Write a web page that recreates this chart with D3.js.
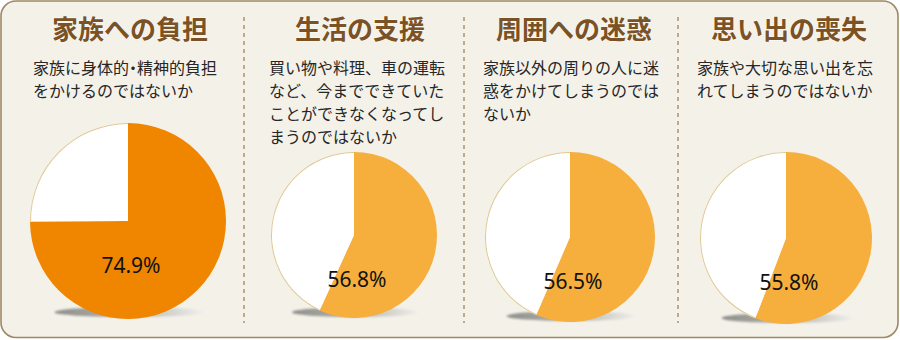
<!DOCTYPE html>
<html lang="ja">
<head>
<meta charset="utf-8">
<script src="https://cdn.jsdelivr.net/npm/d3@7/dist/d3.min.js"></script>
<style>
  html, body { margin: 0; padding: 0; background: #ffffff; }
  svg { display: block; }
  .half { font-feature-settings: "halt" 1; }
</style>
</head>
<body>
<svg id="chart" width="900" height="340"></svg>
<script>
// Survey: worries about dementia (share of respondents, %)
const titles = ["家族への負担", "生活の支援", "周囲への迷惑", "思い出の喪失"];
const descriptions = [
  ["家族に身体的・精神的負担", "をかけるのではないか"],
  ["買い物や料理、車の運転", "など、今までできていた", "ことができなくなってし", "まうのではないか"],
  ["家族以外の周りの人に迷", "惑をかけてしまうのでは", "ないか"],
  ["家族や大切な思い出を忘", "れてしまうのではないか"]
];
const percents = [74.9, 56.8, 56.5, 55.8];

// Panel layout (text column, pie placement)
const layout = [
  { textX: 33,  titleX: 130, cx: 128, cy: 221, r: 98, color: "#f08500" },
  { textX: 269, titleX: 360, cx: 354, cy: 235, r: 83, color: "#f6ae3d" },
  { textX: 483, titleX: 574, cx: 570, cy: 237, r: 85, color: "#f6ae3d" },
  { textX: 697, titleX: 789, cx: 786, cy: 238, r: 86, color: "#f6ae3d" }
];
const dividers = [244, 464, 678];

const svg = d3.select("#chart");
const defs = svg.append("defs");

const grad = defs.append("linearGradient").attr("id", "shadowGrad")
  .attr("x1", "0%").attr("x2", "100%").attr("y1", "0%").attr("y2", "0%");
grad.append("stop").attr("offset", "0%").attr("stop-color", "#8f8f8a");
grad.append("stop").attr("offset", "55%").attr("stop-color", "#b9b9b4");
grad.append("stop").attr("offset", "100%").attr("stop-color", "#efeee9");

const blur = defs.append("filter").attr("id", "soft")
  .attr("x", "-20%").attr("y", "-100%").attr("width", "140%").attr("height", "300%");
blur.append("feGaussianBlur").attr("stdDeviation", 1.1);

// Frame
svg.append("rect")
  .attr("x", 1).attr("y", 1).attr("width", 897).attr("height", 336.5)
  .attr("rx", 15).attr("ry", 15)
  .attr("fill", "#f4f1e9").attr("stroke", "#a08866").attr("stroke-width", 1.6);

// Dashed separators
svg.selectAll("line.sep").data(dividers).join("line")
  .attr("class", "sep")
  .attr("x1", d => d).attr("x2", d => d)
  .attr("y1", 17).attr("y2", 323)
  .attr("stroke", "#9a7a50").attr("stroke-width", 1.2)
  .attr("stroke-dasharray", "4,4");

const pie = d3.pie().sort(null).value(d => d.v)
  .startAngle(0).endAngle(2 * Math.PI);

const panels = svg.selectAll("g.panel")
  .data(percents.map((p, i) => ({ p, i })))
  .join("g").attr("class", "panel");

panels.each(function (d) {
  const g = d3.select(this);
  const L = layout[d.i];

  // Title
  g.append("text")
    .attr("x", L.titleX).attr("y", 38.5)
    .attr("text-anchor", "middle")
    .attr("font-family", "'Noto Sans CJK JP', sans-serif")
    .attr("font-weight", 700).attr("font-size", 26)
    .attr("fill", "#7b5226")
    .attr("stroke", "#fbf9f3").attr("stroke-width", 1.2)
    .attr("paint-order", "stroke")
    .text(titles[d.i]);

  // Description, one text per line; the middle dot uses half-width alternates
  descriptions[d.i].forEach((line, k) => {
    const t = g.append("text")
      .attr("x", L.textX).attr("y", 74 + k * 23)
      .attr("font-family", "'Noto Sans CJK JP', sans-serif")
      .attr("font-size", 16).attr("fill", "#262626");
    line.split("・").forEach((part, j) => {
      if (j > 0) t.append("tspan").attr("class", "half").text("・");
      t.append("tspan").text(part);
    });
  });

  // Shadow under the pie
  g.append("ellipse")
    .attr("cx", L.cx + 1).attr("cy", L.cy + L.r * 0.93)
    .attr("rx", L.r * 0.76).attr("ry", 5)
    .attr("fill", "url(#shadowGrad)")
    .attr("filter", "url(#soft)");

  // Pie: value share (clockwise from 12 o'clock) and remainder
  const slices = pie([{ v: d.p, k: "yes" }, { v: 100 - d.p, k: "rest" }]);
  const arc = d3.arc().innerRadius(0).outerRadius(L.r);
  const pg = g.append("g").attr("transform", `translate(${L.cx},${L.cy})`);
  pg.selectAll("path.slice").data(slices).join("path")
    .attr("class", "slice")
    .attr("d", arc)
    .attr("fill", s => s.data.k === "yes" ? L.color : "#ffffff");

  // Thin tan rim on the white part
  const rim = d3.arc().innerRadius(L.r - 1).outerRadius(L.r);
  pg.append("path").attr("d", rim(slices[1])).attr("fill", "#e0c894");

  // Value label
  g.append("text")
    .attr("x", L.cx + 3).attr("y", L.cy + 52)
    .attr("text-anchor", "middle")
    .attr("font-family", "'Noto Sans', 'DejaVu Sans', sans-serif")
    .attr("font-size", 21).attr("fill", "#111111")
    .text(d.p.toFixed(1) + "%");
});
</script>
</body>
</html>
